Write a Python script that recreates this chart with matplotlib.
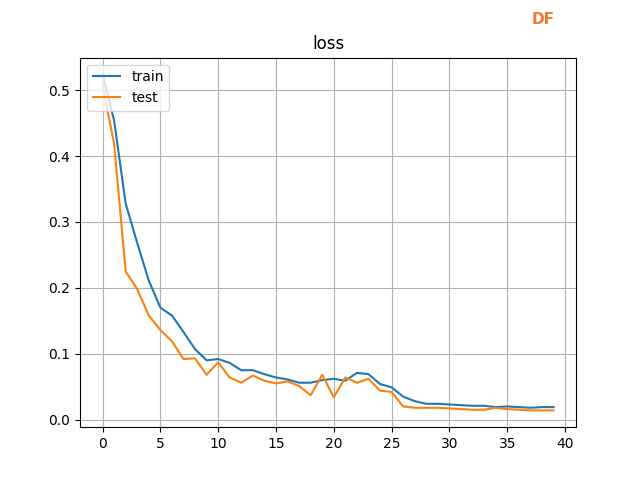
import matplotlib
matplotlib.use('Agg')
import matplotlib.pyplot as plt

# loss per epoch
epochs = list(range(40))
train_loss = [0.524, 0.454, 0.328, 0.268, 0.211, 0.170, 0.158, 0.133, 0.107, 0.090,
              0.092, 0.086, 0.075, 0.075, 0.069, 0.064, 0.061, 0.056, 0.056, 0.060,
              0.062, 0.059, 0.071, 0.069, 0.054, 0.049, 0.035, 0.028, 0.024, 0.024,
              0.023, 0.022, 0.021, 0.021, 0.019, 0.020, 0.019, 0.018, 0.019, 0.019]
test_loss = [0.508, 0.419, 0.225, 0.198, 0.158, 0.136, 0.119, 0.092, 0.093, 0.068,
             0.087, 0.064, 0.056, 0.067, 0.059, 0.055, 0.058, 0.051, 0.037, 0.068,
             0.034, 0.064, 0.056, 0.062, 0.044, 0.042, 0.020, 0.018, 0.018, 0.018,
             0.017, 0.016, 0.015, 0.015, 0.018, 0.016, 0.015, 0.014, 0.014, 0.014]

fig, ax = plt.subplots(figsize=(6.4, 4.8), dpi=100)
ax.plot(epochs, train_loss, label='train')
ax.plot(epochs, test_loss, label='test')
ax.set_title('loss')
ax.grid(True)
ax.legend(loc='upper left')

fig.text(0.848, 0.96, 'DF', color='#ED7D31', fontsize=11, fontweight='bold',
         ha='center', va='center')

fig.savefig('out.png')
